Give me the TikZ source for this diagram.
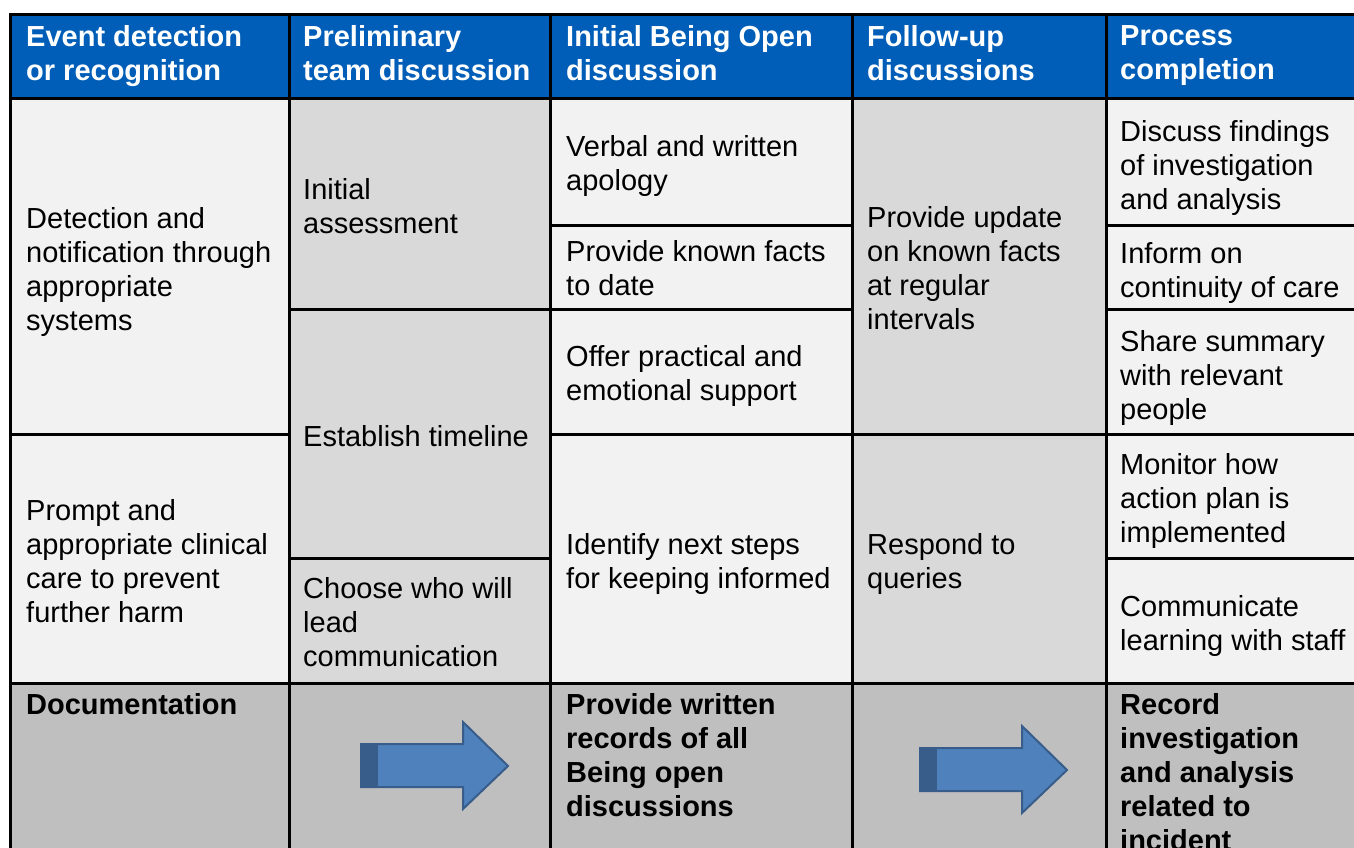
\documentclass[tikz,border=0pt]{standalone}
\usepackage{fontspec}
\setmainfont{Liberation Sans}
\usepackage{tikz}
\usetikzlibrary{calc}

\definecolor{hdrblue}{HTML}{005EB8}
\definecolor{lightcell}{HTML}{F2F2F2}
\definecolor{midcell}{HTML}{D9D9D9}
\definecolor{doccell}{HTML}{BFBFBF}
\definecolor{arrowfill}{HTML}{4F81BD}
\definecolor{arrowline}{HTML}{385D8A}

\tikzset{
  txt/.style={anchor=north west, inner sep=0pt, align=left, font={\fontsize{29}{34}\selectfont}},
  hdr/.style={txt, text=white, font={\fontsize{29}{34}\selectfont\bfseries}},
  boldtxt/.style={txt, font={\fontsize{29}{34}\selectfont\bfseries}},
  rule/.style={line width=3pt},
  blockarrow/.style={fill=arrowfill, draw=arrowline, line width=2pt, line join=miter},
}

\begin{document}
\begin{tikzpicture}[x=1pt, y=-1pt]
  \useasboundingbox (0,0) rectangle (1354,848);

  \fill[hdrblue] (10,15) rectangle (1354,99);
  \fill[lightcell] (10,99) rectangle (289,683);
  \fill[midcell] (289,99) rectangle (550,683);
  \fill[lightcell] (550,99) rectangle (852,683);
  \fill[midcell] (852,99) rectangle (1106,683);
  \fill[lightcell] (1106,99) rectangle (1354,683);
  \fill[doccell] (10,683) rectangle (1354,848);

  % table rules
  \draw[rule] (9,15) -- (1354,15);
  \draw[rule] (9,99) -- (1354,99);
  \draw[rule] (9,683) -- (1354,683);
  \foreach \cx in {10.5,289,550,852,1106}
    \draw[rule] (\cx,15) -- (\cx,848);
  \draw[rule] (10,434) -- (289,434);
  \draw[rule] (289,309) -- (550,309);
  \draw[rule] (289,558) -- (550,558);
  \draw[rule] (550,225) -- (852,225);
  \draw[rule] (550,309) -- (852,309);
  \draw[rule] (550,434) -- (852,434);
  \draw[rule] (852,434) -- (1106,434);
  \draw[rule] (1106,225) -- (1354,225);
  \draw[rule] (1106,309) -- (1354,309);
  \draw[rule] (1106,434) -- (1354,434);
  \draw[rule] (1106,558) -- (1354,558);

  \node[hdr] at (26,25) (hdetect) {Event detection\\or recognition};
  \node[hdr] at (303,25) (hteam) {Preliminary\\team discussion};
  \node[hdr] at (566,25) (hopen) {Initial Being Open\\discussion};
  \node[hdr] at (867,25) (hfollow) {Follow-up\\discussions};
  \node[hdr] at (1120,25) (hcomplete) {Process\\completion};

  \node[txt] at (26,207) (detect) {Detection and\\notification through\\appropriate\\systems};
  \node[txt] at (26,499) (prompt) {Prompt and\\appropriate clinical\\care to prevent\\further harm};
  \node[boldtxt] at (26,693) (docu) {Documentation};

  \node[txt] at (303,178) (assess) {Initial\\assessment};
  \node[txt] at (303,425) (timeline) {Establish timeline};
  \node[txt] at (303,577) (lead) {Choose who will\\lead\\communication};

  \node[txt] at (566,135) (apology) {Verbal and written\\apology};
  \node[txt] at (566,240) (facts) {Provide known facts\\to date};
  \node[txt] at (566,345) (support) {Offer practical and\\emotional support};
  \node[txt] at (566,533) (steps) {Identify next steps\\for keeping informed};
  \node[boldtxt] at (566,693) (records) {Provide written\\records of all\\Being open\\discussions};

  \node[txt] at (867,206) (update) {Provide update\\on known facts\\at regular\\intervals};
  \node[txt] at (867,533) (queries) {Respond to\\queries};

  \node[txt] at (1120,120) (findings) {Discuss findings\\of investigation\\and analysis};
  \node[txt] at (1120,242) (inform) {Inform on\\continuity of care};
  \node[txt] at (1120,330) (share) {Share summary\\with relevant\\people};
  \node[txt] at (1120,453) (monitor) {Monitor how\\action plan is\\implemented};
  \node[txt] at (1120,595) (learn) {Communicate\\learning with staff};
  \node[boldtxt] at (1120,693) (recinc) {Record\\investigation\\and analysis\\related to\\incident};

  % block arrows in the documentation row
  \foreach \ax/\ay in {361/744, 920/748} {
    \draw[blockarrow] (\ax,\ay) -- ++(102,0) -- ++(0,-22) -- ++(45,44) -- ++(-45,43) -- ++(0,-22) -- ++(-102,0) -- cycle;
    \fill[arrowline] (\ax,\ay) rectangle ++(17,43);
  }
\end{tikzpicture}
\end{document}
